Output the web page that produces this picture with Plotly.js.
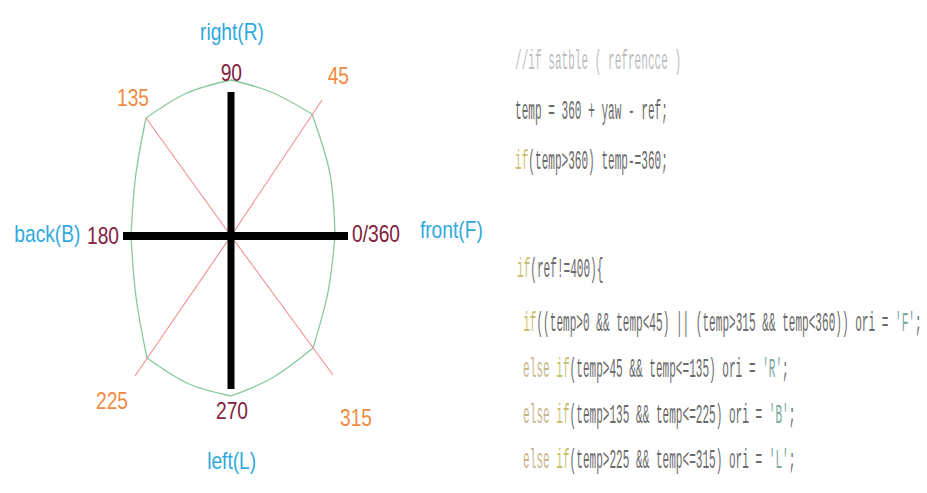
<!DOCTYPE html>
<html>
<head>
<meta charset="utf-8">
<script src="https://cdn.plot.ly/plotly-3.0.1.min.js"></script>
<style>
  html, body { margin: 0; padding: 0; background: #ffffff; }
  #chart { width: 927px; height: 493px; }
</style>
</head>
<body>
<div id="chart"></div>
<script>
// ---- Data (diagram geometry, in pixel-like units relative to the centre) ----
// Outline (green): vertices at 0,45,...,360 with one bulge point between each pair
const outlineX = [104, 99, 81, 40, 0, -44, -85, -95.5, -100, -95, -84, -42, 0, 41, 82, 97, 104];
const outlineY = [0, 62, 122, 144, 156, 143, 118, 59, 0, -61, -122, -148, -160, -142, -112, -56, 0];

// Thick black main axes (0/180 horizontal, 90/270 vertical)
const horizAxisX = [-108, 117];
const horizAxisY = [0, 0];
const vertAxisX = [0, 0];
const vertAxisY = [144, -153];

// Thin red diagonals (45, 135, 225, 315) from the centre
const diagLabels = ['45', '135', '225', '315'];
const diagEndX = [91, -85, -96, 102];
const diagEndY = [136, 118, -140, -139];

// Angle labels
const mainAngleLabels = ['0/360', '90', '180', '270'];
const mainAngleX = [145, 0, -128, 1];
const mainAngleY = [3, 164, 1, -174];

const diagLabelX = [107, -98, -119, 125];
const diagLabelY = [161, 139, -164, -181];

// Direction labels
const dirLabels = ['front(F)', 'right(R)', 'back(B)', 'left(L)'];
const dirX = [220, 1, -184, 0];
const dirY = [7, 205, 3, -224];

// Code listing (right side)
const codeLines = [
  '<span style="color:#bdbdbd">//if satble ( refrencce )</span>',
  'temp = 360 + yaw - ref;',
  '<span style="color:#cbbf6c">if</span>(temp&gt;360) temp-=360;',
  '<span style="color:#cbbf6c">if</span>(ref!=400){',
  '<span style="color:#cbbf6c">if</span>((temp&gt;0 &amp;&amp; temp&lt;45) || (temp&gt;315 &amp;&amp; temp&lt;360)) ori = <span style="color:#7aa6a0">\'F\'</span>;',
  '<span style="color:#c6b68c">else</span> <span style="color:#cbbf6c">if</span>(temp&gt;45 &amp;&amp; temp&lt;=135) ori = <span style="color:#7aa6a0">\'R\'</span>;',
  '<span style="color:#c6b68c">else</span> <span style="color:#cbbf6c">if</span>(temp&gt;135 &amp;&amp; temp&lt;=225) ori = <span style="color:#7aa6a0">\'B\'</span>;',
  '<span style="color:#c6b68c">else</span> <span style="color:#cbbf6c">if</span>(temp&gt;225 &amp;&amp; temp&lt;=315) ori = <span style="color:#7aa6a0">\'L\'</span>;'
];
const codeX = [282, 282, 282, 284, 290, 290, 290, 290];
const codeY = [174, 124, 74, -34, -88, -134, -180, -225];

// ---- Traces ----
const traces = [];

// outline drawn as 8 gently curved arcs, each through its bulge point
for (let s = 0; s + 2 < outlineX.length; s += 2) {
  traces.push({
    type: 'scatter', mode: 'lines',
    x: outlineX.slice(s, s + 3), y: outlineY.slice(s, s + 3),
    line: { color: '#86c99c', width: 1.3, shape: 'spline', smoothing: 1 },
    hoverinfo: 'skip', showlegend: false
  });
}

for (let i = 0; i < diagEndX.length; i++) {
  traces.push({
    type: 'scatter', mode: 'lines',
    x: [0, diagEndX[i]], y: [0, diagEndY[i]],
    line: { color: '#ee8f8c', width: 1.1 },
    hoverinfo: 'skip', showlegend: false, name: diagLabels[i]
  });
}

traces.push({
  type: 'scatter', mode: 'lines',
  x: horizAxisX, y: horizAxisY,
  line: { color: '#000000', width: 8 },
  hoverinfo: 'skip', showlegend: false
});
traces.push({
  type: 'scatter', mode: 'lines',
  x: vertAxisX, y: vertAxisY,
  line: { color: '#000000', width: 7 },
  hoverinfo: 'skip', showlegend: false
});

// ---- Annotations ----
const labelFont = '"Liberation Sans", Arial, sans-serif';
const annotations = [];

for (let i = 0; i < mainAngleLabels.length; i++) {
  annotations.push({
    x: mainAngleX[i], y: mainAngleY[i], xref: 'x', yref: 'y',
    text: mainAngleLabels[i], showarrow: false,
    xanchor: 'center', yanchor: 'middle',
    font: { family: labelFont, size: 24, color: '#852140' }
  });
}
for (let i = 0; i < diagLabels.length; i++) {
  annotations.push({
    x: diagLabelX[i], y: diagLabelY[i], xref: 'x', yref: 'y',
    text: diagLabels[i], showarrow: false,
    xanchor: 'center', yanchor: 'middle',
    font: { family: labelFont, size: 24, color: '#ef8b40' }
  });
}
for (let i = 0; i < dirLabels.length; i++) {
  annotations.push({
    x: dirX[i], y: dirY[i], xref: 'x', yref: 'y',
    text: dirLabels[i], showarrow: false,
    xanchor: 'center', yanchor: 'middle',
    font: { family: labelFont, size: 24, color: '#2fa9dd' }
  });
}
const codeStart = annotations.length;
for (let i = 0; i < codeLines.length; i++) {
  annotations.push({
    x: codeX[i], y: codeY[i], xref: 'x', yref: 'y',
    text: codeLines[i], showarrow: false,
    xanchor: 'left', yanchor: 'middle',
    font: { family: '"Liberation Mono", "DejaVu Sans Mono", monospace', size: 27, color: '#6a6a6a' }
  });
}

const layout = {
  width: 927, height: 493,
  margin: { l: 0, r: 0, t: 0, b: 0, pad: 0 },
  paper_bgcolor: '#ffffff', plot_bgcolor: '#ffffff',
  xaxis: { range: [-231, 696], visible: false, fixedrange: true },
  yaxis: { range: [-257, 236], visible: false, fixedrange: true },
  showlegend: false,
  annotations: annotations
};

Plotly.newPlot('chart', traces, layout, { displayModeBar: false, staticPlot: true }).then(function () {
  // Condense texts horizontally, like the squeezed screenshot
  const groups = document.querySelectorAll('#chart g.annotation');
  groups.forEach(function (g) {
    const idx = parseInt(g.getAttribute('data-index'), 10);
    const t = g.querySelector('text.annotation-text');
    if (!t) return;
    t.style.transformBox = 'fill-box';
    if (idx >= codeStart) {
      t.style.transformOrigin = '0% 50%';
      t.style.transform = 'scaleX(0.41)';
    } else {
      t.style.transformOrigin = '50% 50%';
      t.style.transform = 'scaleX(0.8)';
    }
  });
});
</script>
</body>
</html>
